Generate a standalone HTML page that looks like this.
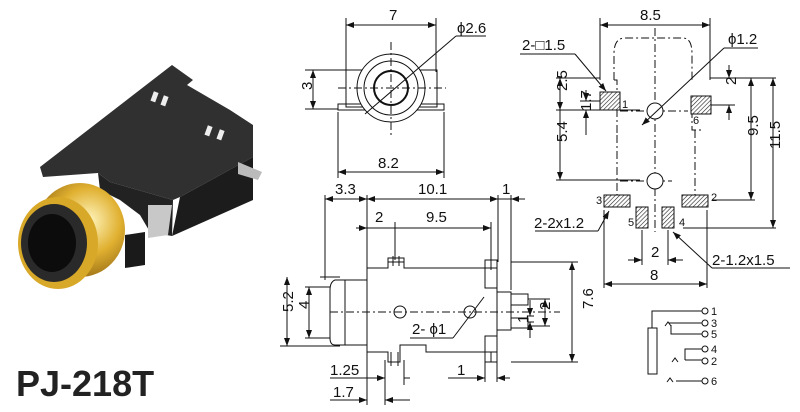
<!DOCTYPE html>
<html><head><style>
html,body{margin:0;padding:0;background:#fff;}
svg{display:block;}
text{font-family:"Liberation Sans",Arial,sans-serif;fill:#111;}
</style></head><body>
<svg width="800" height="412" viewBox="0 0 800 412" xmlns="http://www.w3.org/2000/svg">
<defs>
<marker id="a" markerWidth="8" markerHeight="6" refX="8" refY="3" orient="auto-start-reverse" markerUnits="userSpaceOnUse"><path d="M0,0 L8,3 L0,6 z" fill="#111"/></marker>
<pattern id="h" width="3" height="3" patternUnits="userSpaceOnUse" patternTransform="rotate(45)"><rect width="3" height="3" fill="#fff"/><line x1="0" y1="0" x2="0" y2="3" stroke="#222" stroke-width="1.2"/></pattern>
<radialGradient id="g" cx="0.6" cy="0.4" r="0.7"><stop offset="0" stop-color="#fff6c0"/><stop offset="0.5" stop-color="#e0b030"/><stop offset="1" stop-color="#8a6010"/></radialGradient>
</defs>

<!-- PHOTO -->
<g>
<polygon points="40,167 172,65 193,80 187,85 230,110 253,125 253,157 180,197 173,200 110,182 98,173 43,177" fill="#303030"/>
<polygon points="180,197 253,157 253,200 172,236" fill="#1c1c1c"/>
<polygon points="98,173 110,182 173,200 172,236 150,232 140,215 120,200 100,190" fill="#222"/>
<polygon points="148,205 172,205 168,235 148,238" fill="#c8c8c8"/>
<polygon points="238,162 262,172 258,180 238,174" fill="#bbb"/>
<polygon points="125,235 145,232 145,265 125,268" fill="#1a1a1a"/>
<rect x="152" y="92" width="5" height="10" fill="#eee" transform="rotate(20 155 97)"/>
<rect x="162" y="96" width="5" height="10" fill="#eee" transform="rotate(20 165 101)"/>
<rect x="206" y="126" width="5" height="10" fill="#eee" transform="rotate(20 209 131)"/>
<rect x="218" y="130" width="5" height="10" fill="#eee" transform="rotate(20 221 135)"/>
<ellipse cx="80" cy="230" rx="45" ry="47" fill="url(#g)"/>
<ellipse cx="58" cy="243" rx="40" ry="46" fill="#d8a828"/>
<ellipse cx="54" cy="243" rx="33" ry="39" fill="#2a2a2a"/>
<ellipse cx="52" cy="243" rx="24" ry="29" fill="#0c0c0c"/>
</g>
<text x="16" y="396" font-size="36" font-weight="bold" style="fill:#222">PJ-218T</text>

<g stroke="#111" stroke-width="1" fill="none">
<!-- FRONT VIEW -->
<line x1="346" y1="18" x2="346" y2="72"/><line x1="436" y1="18" x2="436" y2="72"/>
<line x1="346" y1="25" x2="436" y2="25" marker-start="url(#a)" marker-end="url(#a)"/>
<rect x="346" y="70" width="91" height="37"/>
<path d="M338,104 H444 V110 H338 Z"/>
<circle cx="391" cy="88" r="34" fill="#fff"/>
<circle cx="391" cy="88" r="27"/>
<circle cx="391" cy="88" r="17" stroke-width="2"/>
<line x1="338" y1="88" x2="446" y2="88" stroke-dasharray="8,3,2,3"/>
<line x1="391" y1="42" x2="391" y2="135" stroke-dasharray="8,3,2,3"/>
<line x1="365" y1="114" x2="456" y2="36"/><line x1="456" y1="36" x2="486" y2="36"/>
<line x1="305" y1="70" x2="346" y2="70"/><line x1="305" y1="109" x2="338" y2="109"/>
<line x1="313" y1="70" x2="313" y2="109" marker-start="url(#a)" marker-end="url(#a)"/>
<line x1="338" y1="112" x2="338" y2="178"/><line x1="444" y1="112" x2="444" y2="178"/>
<line x1="338" y1="172" x2="444" y2="172" marker-start="url(#a)" marker-end="url(#a)"/>

<!-- SIDE VIEW -->
<line x1="325" y1="195" x2="325" y2="280"/><line x1="367" y1="195" x2="367" y2="270"/>
<line x1="498" y1="195" x2="498" y2="262"/><line x1="511" y1="195" x2="511" y2="290"/>
<line x1="325" y1="199" x2="525" y2="199"/>
<line x1="325" y1="199" x2="367" y2="199" marker-start="url(#a)" marker-end="url(#a)"/>
<line x1="367" y1="199" x2="498" y2="199" marker-start="url(#a)" marker-end="url(#a)"/>
<line x1="511" y1="199" x2="525" y2="199" marker-start="url(#a)"/>
<line x1="356" y1="228" x2="491" y2="228"/>
<line x1="356" y1="228" x2="367" y2="228" marker-end="url(#a)"/>
<line x1="395" y1="228" x2="491" y2="228" marker-end="url(#a)"/>
<line x1="395" y1="222" x2="395" y2="260"/><line x1="491" y1="222" x2="491" y2="262"/>
<path d="M367,268 H388 V262 H404 V268 H497 V352 H426 V345 H400 V362 H388 V352 H367 Z"/>
<path d="M388,262 V258 H404 V262 M393,266 V256 M399,266 V256"/>
<path d="M391,352 V366 M398,352 V366"/>
<path d="M367,280 H335 Q330,282 330,290 V338 Q330,345 335,345 H367"/>
<line x1="345" y1="280" x2="345" y2="345"/>
<path d="M485,260 H497 V288 H485 Z M485,336 H497 V362 H485 Z"/>
<path d="M491,260 V270 M491,352 V362"/>
<path d="M497,292 H511 V330 H497 M511,294 H528 V305 H511 M511,318 H528 V328 H511"/>
<line x1="330" y1="312" x2="560" y2="312" stroke-dasharray="8,3,2,3"/>
<circle cx="400" cy="312" r="6"/><circle cx="470" cy="312" r="6"/>
<line x1="453" y1="338" x2="484" y2="297"/><line x1="410" y1="338" x2="453" y2="338"/>
<line x1="320" y1="277" x2="340" y2="277"/><line x1="280" y1="346" x2="340" y2="346"/>
<line x1="287" y1="277" x2="287" y2="346" marker-start="url(#a)" marker-end="url(#a)"/>
<line x1="305" y1="287" x2="330" y2="287"/><line x1="305" y1="338" x2="330" y2="338"/>
<line x1="309" y1="287" x2="309" y2="338" marker-start="url(#a)" marker-end="url(#a)"/>
<line x1="511" y1="262" x2="578" y2="262"/><line x1="511" y1="362" x2="578" y2="362"/>
<line x1="572" y1="262" x2="572" y2="362" marker-start="url(#a)" marker-end="url(#a)"/>
<line x1="528" y1="299" x2="550" y2="299"/><line x1="528" y1="326" x2="550" y2="326"/>
<line x1="545" y1="299" x2="545" y2="326" marker-start="url(#a)" marker-end="url(#a)"/>
<line x1="528" y1="316" x2="534" y2="316"/><line x1="528" y1="322" x2="534" y2="322"/>
<line x1="530" y1="300" x2="530" y2="316" marker-end="url(#a)"/><line x1="530" y1="338" x2="530" y2="322" marker-end="url(#a)"/>
<line x1="367" y1="352" x2="367" y2="405"/><line x1="385" y1="360" x2="385" y2="405"/><line x1="404" y1="360" x2="404" y2="385"/>
<line x1="330" y1="378" x2="385" y2="378" marker-end="url(#a)"/><line x1="410" y1="378" x2="404" y2="378"/>
<line x1="330" y1="400" x2="367" y2="400" marker-end="url(#a)"/><line x1="410" y1="400" x2="385" y2="400" marker-end="url(#a)"/>
<line x1="485" y1="362" x2="485" y2="382"/><line x1="497" y1="362" x2="497" y2="382"/>
<line x1="448" y1="378" x2="485" y2="378" marker-end="url(#a)"/><line x1="510" y1="378" x2="497" y2="378" marker-end="url(#a)"/>

<!-- FOOTPRINT -->
<line x1="600" y1="18" x2="600" y2="80"/><line x1="710" y1="18" x2="710" y2="80"/>
<line x1="600" y1="25" x2="710" y2="25" marker-start="url(#a)" marker-end="url(#a)"/>
<path d="M614,80 V54 Q614,38 625,38 H683 Q692,38 692,54 V80" stroke-dasharray="8,3,2,3"/>
<path d="M614,80 H617 V135 M692,110 V130 H702" stroke-dasharray="8,3,2,3"/>
<line x1="617" y1="135" x2="617" y2="195" stroke-dasharray="8,3,2,3"/>
<line x1="695" y1="130" x2="695" y2="195" stroke-dasharray="8,3,2,3"/>
<line x1="655" y1="28" x2="655" y2="232" stroke-dasharray="8,3,2,3"/>
<line x1="620" y1="111" x2="688" y2="111" stroke-dasharray="8,3,2,3"/>
<line x1="620" y1="181" x2="672" y2="181" stroke-dasharray="8,3,2,3"/>
<rect x="600" y="92" width="20" height="18" fill="url(#h)"/>
<rect x="691" y="96" width="20" height="18" fill="url(#h)"/>
<rect x="604" y="195" width="26" height="12" fill="url(#h)"/>
<rect x="682" y="195" width="26" height="12" fill="url(#h)"/>
<rect x="636" y="207" width="12" height="21" fill="url(#h)"/>
<rect x="662" y="207" width="12" height="21" fill="url(#h)"/>
<circle cx="655" cy="111" r="8" fill="#fff"/><circle cx="655" cy="181" r="8" fill="#fff"/>
<line x1="642" y1="125" x2="724" y2="48" marker-start="url(#a)"/><line x1="724" y1="48" x2="758" y2="48"/>
<line x1="520" y1="54" x2="575" y2="54"/><line x1="575" y1="54" x2="606" y2="91" marker-end="url(#a)"/>
<line x1="556" y1="78" x2="600" y2="78"/><line x1="556" y1="110" x2="640" y2="110"/><line x1="556" y1="180" x2="640" y2="180"/>
<line x1="560" y1="78" x2="560" y2="110" marker-start="url(#a)" marker-end="url(#a)"/>
<line x1="560" y1="110" x2="560" y2="180" marker-end="url(#a)"/>
<line x1="580" y1="101" x2="600" y2="101"/>
<line x1="586" y1="90" x2="586" y2="101" marker-end="url(#a)"/><line x1="586" y1="135" x2="586" y2="110" marker-end="url(#a)"/>
<line x1="711" y1="105" x2="735" y2="105"/>
<line x1="729" y1="65" x2="729" y2="78" marker-end="url(#a)"/><line x1="729" y1="120" x2="729" y2="105" marker-end="url(#a)"/>
<line x1="710" y1="78" x2="776" y2="78"/><line x1="712" y1="200" x2="755" y2="200"/><line x1="683" y1="228" x2="776" y2="228"/>
<line x1="751" y1="78" x2="751" y2="200" marker-start="url(#a)" marker-end="url(#a)"/>
<line x1="773" y1="78" x2="773" y2="228" marker-start="url(#a)" marker-end="url(#a)"/>
<line x1="535" y1="231" x2="598" y2="231"/><line x1="598" y1="231" x2="609" y2="211" marker-end="url(#a)"/>
<line x1="712" y1="268" x2="790" y2="268"/><line x1="712" y1="268" x2="673" y2="232" marker-end="url(#a)"/>
<line x1="642" y1="230" x2="642" y2="265"/><line x1="668" y1="230" x2="668" y2="265"/>
<line x1="628" y1="260" x2="642" y2="260" marker-end="url(#a)"/><line x1="683" y1="260" x2="668" y2="260" marker-end="url(#a)"/>
<line x1="604" y1="210" x2="604" y2="288"/><line x1="707" y1="210" x2="707" y2="288"/>
<line x1="604" y1="284" x2="707" y2="284" marker-start="url(#a)" marker-end="url(#a)"/>

<!-- SCHEMATIC -->
<rect x="648" y="328" width="9" height="46"/>
<path d="M652,328 V311 H702 M669,323 H702 M671,325 V334 H702 M685,360 V349 H702 M685,360 H702 M676,381 H702"/>
<path d="M665,326 L668,322 L671,326 M672,362 L675,358 L678,362 M667,382 L670,378 L673,382"/>
<circle cx="705" cy="311" r="3"/><circle cx="705" cy="323" r="3"/><circle cx="705" cy="334" r="3"/>
<circle cx="705" cy="349" r="3"/><circle cx="705" cy="361" r="3"/><circle cx="705" cy="381" r="3"/>
</g>

<g font-size="15">
<text x="389" y="20">7</text>
<text x="457" y="33">ϕ2.6</text>
<text x="306" y="96" transform="rotate(-90 306 90)">3</text>
<text x="378" y="168">8.2</text>
<text x="335" y="194">3.3</text>
<text x="418" y="194">10.1</text>
<text x="502" y="194">1</text>
<text x="375" y="222">2</text>
<text x="426" y="222">9.5</text>
<text x="412" y="334">2- ϕ1</text>
<text x="285" y="320" transform="rotate(-90 285 312)">5.2</text>
<text x="306" y="318" transform="rotate(-90 303 312)">4</text>
<text x="588" y="320" transform="rotate(-90 585 312)">7.6</text>
<text x="548" y="318" transform="rotate(-90 545 313)">2</text>
<text x="527" y="330" transform="rotate(-90 524 326)">1</text>
<text x="330" y="375">1.25</text>
<text x="333" y="397">1.7</text>
<text x="457" y="375">1</text>
<text x="640" y="20">8.5</text>
<text x="522" y="50">2-□1.5</text>
<text x="728" y="44">ϕ1.2</text>
<text x="564" y="100" transform="rotate(-90 561 94)">2.5</text>
<text x="588" y="120" transform="rotate(-90 585 114)">1.7</text>
<text x="564" y="151" transform="rotate(-90 561 145)">5.4</text>
<text x="733" y="94" transform="rotate(-90 730 88)">2</text>
<text x="755" y="145" transform="rotate(-90 752 139)">9.5</text>
<text x="777" y="158" transform="rotate(-90 774 152)">11.5</text>
<text x="534" y="228">2-2x1.2</text>
<text x="651" y="257">2</text>
<text x="650" y="280">8</text>
<text x="712" y="265">2-1.2x1.5</text>
</g>
<g font-size="11">
<text x="622" y="108">1</text><text x="693" y="124">6</text>
<text x="596" y="204">3</text><text x="711" y="201">2</text>
<text x="628" y="226">5</text><text x="679" y="226">4</text>
<text x="711" y="315">1</text><text x="711" y="327">3</text><text x="711" y="338">5</text>
<text x="711" y="353">4</text><text x="711" y="365">2</text><text x="711" y="385">6</text>
</g>
</svg>
</body></html>
